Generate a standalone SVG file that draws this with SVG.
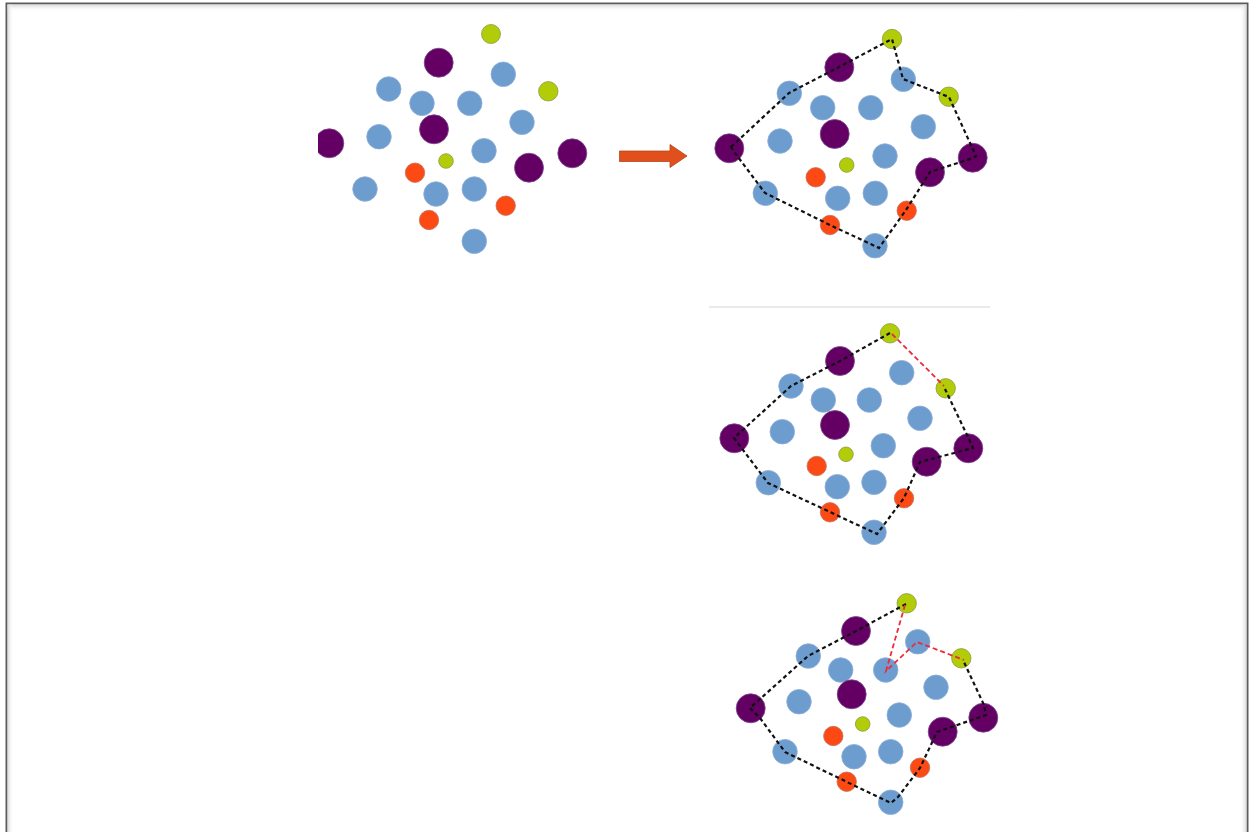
<svg xmlns="http://www.w3.org/2000/svg" width="1249" height="832" viewBox="0 0 1249 832">
<style>
.b{fill:#6d9ccf;stroke:#8fb0d6;stroke-width:0.8}
.p{fill:#640064;stroke:#7a4a8a;stroke-width:0.8}
.g{fill:#b3cc0a;stroke:#8c9a40;stroke-width:0.8}
.o{fill:#fd4a14;stroke:#c07060;stroke-width:0.8}
.hull{fill:none;stroke:#111;stroke-width:2.2;stroke-dasharray:4 3}
.red{fill:none;stroke:#ee2a3a;stroke-width:1.8;stroke-dasharray:5 3}
</style>
<defs>
<linearGradient id="shT" x1="0" y1="0" x2="0" y2="1"><stop offset="0" stop-color="#d8d8d8"/><stop offset="1" stop-color="#ffffff" stop-opacity="0"/></linearGradient>
<linearGradient id="shL" x1="0" y1="0" x2="1" y2="0"><stop offset="0" stop-color="#d8d8d8"/><stop offset="1" stop-color="#ffffff" stop-opacity="0"/></linearGradient>
<linearGradient id="shR" x1="1" y1="0" x2="0" y2="0"><stop offset="0" stop-color="#d8d8d8"/><stop offset="1" stop-color="#ffffff" stop-opacity="0"/></linearGradient>
<clipPath id="clip1"><rect x="318" y="0" width="400" height="300"/></clipPath>
</defs>
<rect width="1249" height="832" fill="#ffffff"/>
<g id="frame">
<rect x="6.5" y="3.5" width="1241" height="840" fill="#ffffff" stroke="#5c5c5c" stroke-width="2"/>
<rect x="7.5" y="4.5" width="1239" height="7" fill="url(#shT)"/>
<rect x="7.5" y="4.5" width="6" height="828" fill="url(#shL)"/>
<rect x="1240" y="4.5" width="6.5" height="828" fill="url(#shR)"/>
</g>

<g id="panel1" clip-path="url(#clip1)">
<g id="p1n1"><circle class="g" cx="491" cy="34" r="9.5"/></g>
<g id="p1n2"><circle class="p" cx="438.7" cy="62.7" r="14.5"/></g>
<g id="p1n3"><circle class="b" cx="503.3" cy="74.3" r="12.3"/></g>
<g id="p1n4"><circle class="b" cx="388.7" cy="89" r="12.3"/></g>
<g id="p1n5"><circle class="g" cx="548.3" cy="91.3" r="9.7"/></g>
<g id="p1n6"><circle class="b" cx="422" cy="103.3" r="12.3"/></g>
<g id="p1n7"><circle class="b" cx="469.7" cy="103.3" r="12.3"/></g>
<g id="p1n8"><circle class="b" cx="522" cy="122.3" r="12.3"/></g>
<g id="p1n9"><circle class="p" cx="434" cy="129.3" r="14.5"/></g>
<g id="p1n10"><circle class="p" cx="329.3" cy="143.3" r="14.5"/></g>
<g id="p1n11"><circle class="b" cx="379" cy="136.7" r="12.3"/></g>
<g id="p1n12"><circle class="g" cx="446" cy="161" r="7.3"/></g>
<g id="p1n13"><circle class="b" cx="484" cy="150.7" r="12.3"/></g>
<g id="p1n14"><circle class="p" cx="529" cy="167.7" r="14.5"/></g>
<g id="p1n15"><circle class="p" cx="572.3" cy="153.3" r="14.5"/></g>
<g id="p1n16"><circle class="o" cx="415" cy="172.7" r="9.7"/></g>
<g id="p1n17"><circle class="b" cx="365" cy="189" r="12.3"/></g>
<g id="p1n18"><circle class="b" cx="436" cy="194" r="12.3"/></g>
<g id="p1n19"><circle class="b" cx="474.3" cy="189" r="12.3"/></g>
<g id="p1n20"><circle class="o" cx="505.7" cy="205.7" r="9.7"/></g>
<g id="p1n21"><circle class="o" cx="429" cy="220" r="9.7"/></g>
<g id="p1n22"><circle class="b" cx="474.3" cy="241.3" r="12.3"/></g>
</g>

<g id="arrow">
<polygon points="619.5,151 670,151 670,144.5 687,156 670,167.5 670,161.5 619.5,161.5" fill="#e0501c" stroke="#b8441a" stroke-width="0.8"/>
</g>

<g id="panel2">
<g id="p2n1"><circle class="g" cx="892" cy="39" r="9.7"/></g>
<g id="p2n2"><circle class="p" cx="839.3" cy="67.3" r="14.5"/></g>
<g id="p2n3"><circle class="b" cx="903.3" cy="79.3" r="12.3"/></g>
<g id="p2n4"><circle class="b" cx="789.3" cy="93.3" r="12.3"/></g>
<g id="p2n5"><circle class="g" cx="948.7" cy="96.7" r="9.7"/></g>
<g id="p2n6"><circle class="b" cx="822.7" cy="107.7" r="12.3"/></g>
<g id="p2n7"><circle class="b" cx="870.7" cy="107.7" r="12.3"/></g>
<g id="p2n8"><circle class="b" cx="923.3" cy="126.7" r="12.3"/></g>
<g id="p2n9"><circle class="p" cx="834.7" cy="134" r="14.5"/></g>
<g id="p2n10"><circle class="b" cx="780" cy="141" r="12.3"/></g>
<g id="p2n11"><circle class="p" cx="729.3" cy="148.3" r="14.5"/></g>
<g id="p2n12"><circle class="b" cx="885" cy="156" r="12.3"/></g>
<g id="p2n13"><circle class="g" cx="846.7" cy="165" r="7.3"/></g>
<g id="p2n14"><circle class="p" cx="972.7" cy="157.7" r="14.5"/></g>
<g id="p2n15"><circle class="p" cx="930" cy="172.3" r="14.5"/></g>
<g id="p2n16"><circle class="o" cx="815.7" cy="177.3" r="9.7"/></g>
<g id="p2n17"><circle class="b" cx="837.7" cy="198.3" r="12.3"/></g>
<g id="p2n18"><circle class="b" cx="875.3" cy="193.3" r="12.3"/></g>
<g id="p2n19"><circle class="b" cx="765.3" cy="193.3" r="12.3"/></g>
<g id="p2n20"><circle class="o" cx="906.7" cy="210.7" r="9.7"/></g>
<g id="p2n21"><circle class="o" cx="830" cy="225" r="9.7"/></g>
<g id="p2n22"><circle class="b" cx="875" cy="245.7" r="12.3"/></g>
</g>

<g id="separator">
<line x1="709" y1="307" x2="990" y2="307" stroke="#d4d4d4" stroke-width="1"/>
</g>

<g id="panel3">
<g id="p3n1"><circle class="g" cx="890" cy="333.3" r="9.7"/></g>
<g id="p3n2"><circle class="p" cx="840" cy="361" r="14.5"/></g>
<g id="p3n3"><circle class="b" cx="901.7" cy="372.7" r="12.3"/></g>
<g id="p3n4"><circle class="b" cx="791" cy="386" r="12.3"/></g>
<g id="p3n5"><circle class="g" cx="945.7" cy="388.3" r="9.7"/></g>
<g id="p3n6"><circle class="b" cx="823.3" cy="400" r="12.3"/></g>
<g id="p3n7"><circle class="b" cx="869.3" cy="400" r="12.3"/></g>
<g id="p3n8"><circle class="b" cx="920" cy="418.3" r="12.3"/></g>
<g id="p3n9"><circle class="p" cx="835" cy="425" r="14.5"/></g>
<g id="p3n10"><circle class="b" cx="782.3" cy="431.7" r="12.3"/></g>
<g id="p3n11"><circle class="p" cx="734.3" cy="438.3" r="14.5"/></g>
<g id="p3n12"><circle class="b" cx="883.3" cy="445.7" r="12.3"/></g>
<g id="p3n13"><circle class="g" cx="846" cy="454.3" r="7.3"/></g>
<g id="p3n14"><circle class="p" cx="968.3" cy="448.3" r="14.5"/></g>
<g id="p3n15"><circle class="p" cx="926.7" cy="461.7" r="14.5"/></g>
<g id="p3n16"><circle class="o" cx="816.7" cy="466" r="9.7"/></g>
<g id="p3n17"><circle class="b" cx="837.3" cy="486.7" r="12.3"/></g>
<g id="p3n18"><circle class="b" cx="874" cy="482.3" r="12.3"/></g>
<g id="p3n19"><circle class="b" cx="768.3" cy="482.7" r="12.3"/></g>
<g id="p3n20"><circle class="o" cx="904" cy="498.3" r="9.7"/></g>
<g id="p3n21"><circle class="o" cx="830" cy="512.3" r="9.7"/></g>
<g id="p3n22"><circle class="b" cx="874" cy="532.3" r="12.3"/></g>
</g>

<g id="panel4">
<g id="p4n1"><circle class="g" cx="906.7" cy="603.3" r="9.7"/></g>
<g id="p4n2"><circle class="p" cx="856" cy="631" r="14.5"/></g>
<g id="p4n3"><circle class="b" cx="917.7" cy="641.7" r="12.3"/></g>
<g id="p4n4"><circle class="b" cx="808.3" cy="656" r="12.3"/></g>
<g id="p4n5"><circle class="g" cx="961.3" cy="658.3" r="9.7"/></g>
<g id="p4n6"><circle class="b" cx="840.7" cy="670" r="12.3"/></g>
<g id="p4n7"><circle class="b" cx="885.7" cy="670" r="12.3"/></g>
<g id="p4n8"><circle class="b" cx="936" cy="687.3" r="12.3"/></g>
<g id="p4n9"><circle class="p" cx="851.7" cy="694.3" r="14.5"/></g>
<g id="p4n10"><circle class="b" cx="799" cy="701.7" r="12.3"/></g>
<g id="p4n11"><circle class="p" cx="750.7" cy="708.3" r="14.5"/></g>
<g id="p4n12"><circle class="b" cx="899.3" cy="715" r="12.3"/></g>
<g id="p4n13"><circle class="g" cx="862.7" cy="724" r="7.3"/></g>
<g id="p4n14"><circle class="p" cx="983.3" cy="717.7" r="14.5"/></g>
<g id="p4n15"><circle class="p" cx="942.7" cy="731.7" r="14.5"/></g>
<g id="p4n16"><circle class="o" cx="833.3" cy="736" r="9.7"/></g>
<g id="p4n17"><circle class="b" cx="854" cy="756.7" r="12.3"/></g>
<g id="p4n18"><circle class="b" cx="890.7" cy="751.7" r="12.3"/></g>
<g id="p4n19"><circle class="b" cx="785" cy="751.7" r="12.3"/></g>
<g id="p4n20"><circle class="o" cx="920" cy="767.7" r="9.7"/></g>
<g id="p4n21"><circle class="o" cx="846.7" cy="781.7" r="9.7"/></g>
<g id="p4n22"><circle class="b" cx="890.7" cy="802.3" r="12.3"/></g>
</g>

<g id="connectors">
<path class="hull" d="M731,147 L789,93 L839,67 L892,39 L903,79 L949,97 L976,156 L973,158 L930,172 L906,210 L879,248 L830,225 L765,193 L735,153 Z"/>
<path class="hull" d="M890,333 L840,361 L791,386 L734,438 L740,446 L768,483 L830,512 L877,534 L904,498 L920,462 L973,448 L967,435 L945,389"/>
<path class="red" d="M892,334 L944,386"/>
<path class="hull" d="M906,604 L856,631 L808,656 L750,708 L760,718 L785,752 L847,782 L891,803 L898,797 L920,768 L937,732 L986,715 L984,705 L963,660"/>
<path class="red" d="M905,605 L886,671 L917,642 L964,660"/>
</g>
</svg>
